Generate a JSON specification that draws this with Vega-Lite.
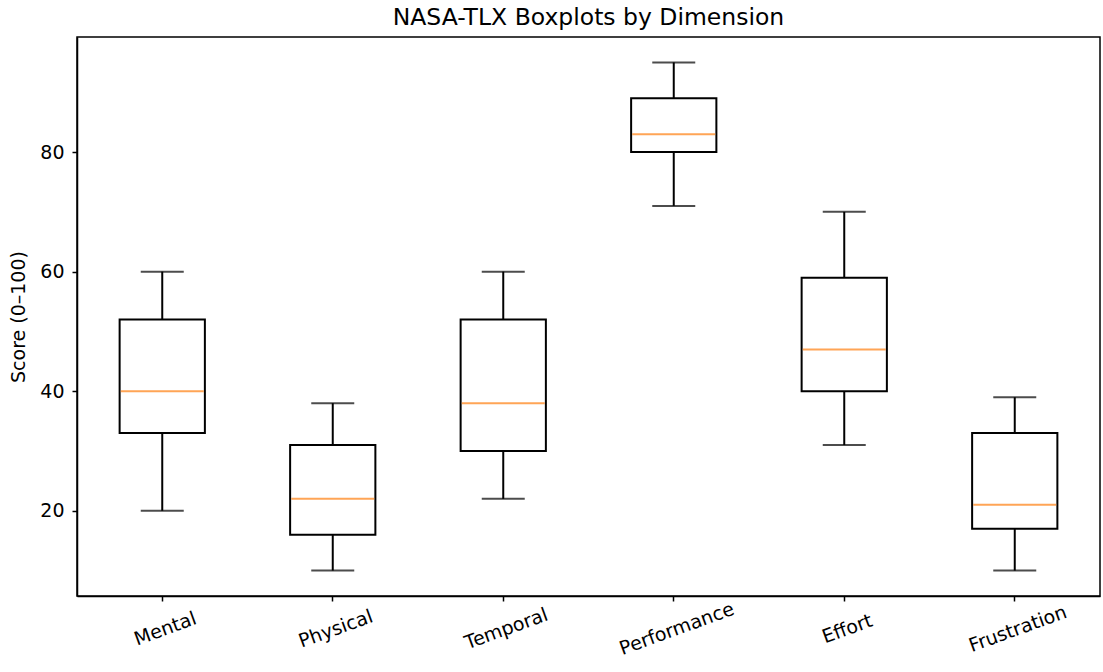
{
  "$schema": "https://vega.github.io/schema/vega-lite/v6.json",
  "autosize": {"type": "none"},
  "padding": {"left": 77, "top": 37, "right": 3, "bottom": 76},
  "width": 1023,
  "height": 559,
  "background": "white",
  "title": {"text": "NASA-TLX Boxplots by Dimension", "font": "DejaVu Sans", "fontSize": 23.5, "fontWeight": "normal", "color": "black", "offset": 8},
  "config": {
    "view": {"stroke": "black", "strokeWidth": 1.5},
    "font": "DejaVu Sans",
    "axis": {"labelFont": "DejaVu Sans", "titleFont": "DejaVu Sans", "labelColor": "black", "titleColor": "black", "domainColor": "black", "domainWidth": 1.5, "tickColor": "black", "tickWidth": 1.5, "grid": false, "labelFontSize": 19, "titleFontSize": 19, "titleFontWeight": "normal", "tickSize": 5}
  },
  "data": {"values": [
    {"dimension": "Mental", "low": 20, "q1": 33, "median": 40, "q3": 52, "high": 60},
    {"dimension": "Physical", "low": 10, "q1": 16, "median": 22, "q3": 31, "high": 38},
    {"dimension": "Temporal", "low": 22, "q1": 30, "median": 38, "q3": 52, "high": 60},
    {"dimension": "Performance", "low": 71, "q1": 80, "median": 83, "q3": 89, "high": 95},
    {"dimension": "Effort", "low": 31, "q1": 40, "median": 47, "q3": 59, "high": 70},
    {"dimension": "Frustration", "low": 10, "q1": 17, "median": 21, "q3": 33, "high": 39}
  ]},
  "encoding": {
    "x": {"field": "dimension", "type": "nominal", "sort": null,
      "scale": {"paddingInner": 0, "paddingOuter": 0},
      "axis": {"title": null, "labelAngle": -20, "labelAlign": "center", "labelBaseline": "top", "labelPadding": 19}}
  },
  "layer": [
    {"mark": {"type": "rule", "color": "black", "strokeWidth": 2},
     "encoding": {"y": {"field": "low", "type": "quantitative", "scale": {"domain": [5.75, 99.25], "nice": false, "zero": false},
       "axis": {"title": "Score (0–100)", "values": [20, 40, 60, 80], "titlePadding": 11, "labelPadding": 8}},
       "y2": {"field": "high"}}},
    {"mark": {"type": "bar", "fill": "white", "stroke": "black", "strokeWidth": 2, "width": {"band": 0.5}},
     "encoding": {"y": {"field": "q1", "type": "quantitative"}, "y2": {"field": "q3"}}},
    {"mark": {"type": "tick", "color": "black", "size": 43, "thickness": 2},
     "encoding": {"y": {"field": "low", "type": "quantitative"}}},
    {"mark": {"type": "tick", "color": "black", "size": 43, "thickness": 2},
     "encoding": {"y": {"field": "high", "type": "quantitative"}}},
    {"mark": {"type": "tick", "color": "#ff7f0e", "size": 83, "thickness": 2},
     "encoding": {"y": {"field": "median", "type": "quantitative"}}}
  ]
}
